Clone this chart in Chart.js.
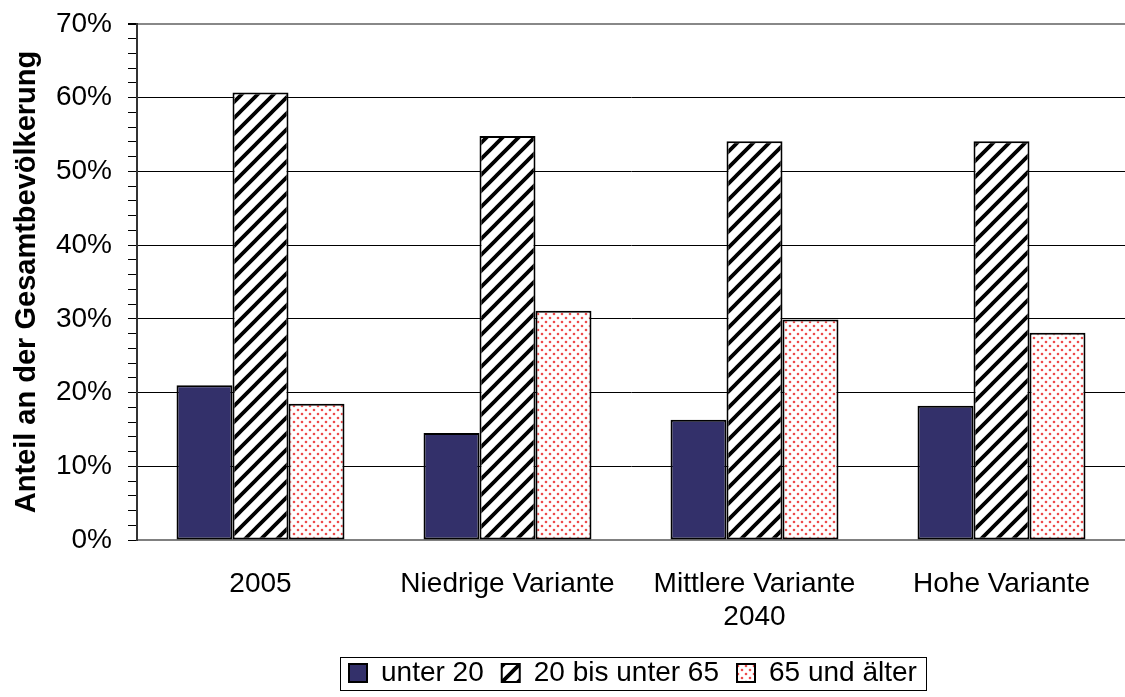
<!DOCTYPE html>
<html lang="de">
<head>
    <meta charset="UTF-8" />
    <title>Anteil an der Gesamtbevölkerung</title>
    <script src="https://cdn.jsdelivr.net/npm/chart.js"></script>
    <style>
        html, body { margin: 0; padding: 0; background: #fff; overflow: hidden; }
    </style>
</head>
<body>
<canvas id="chart" width="1125" height="697"></canvas>
<script>
    // Daten
    const categories = ['2005', 'Niedrige Variante', ['Mittlere Variante', '2040'], 'Hohe Variante'];
    const seriesNames = ['unter 20', '20 bis unter 65', '65 und älter'];
    const unter20 = [21.0, 14.5, 16.3, 18.2];
    const mitte = [60.7, 54.8, 54.1, 54.1];
    const ab65 = [18.5, 31.1, 29.9, 28.1];
    const yTicks = [0, 10, 20, 30, 40, 50, 60, 70];

    const FONT = "'Liberation Sans', Arial, sans-serif";

    // Schraffur
    function hatchPattern() {
        const c = document.createElement('canvas');
        c.width = 16; c.height = 16;
        const g = c.getContext('2d');
        g.fillStyle = '#fff';
        g.fillRect(0, 0, 16, 16);
        g.strokeStyle = '#000';
        g.lineWidth = 3.8;
        g.beginPath();
        g.moveTo(-4, 20); g.lineTo(20, -4);
        g.moveTo(-4, 4); g.lineTo(4, -4);
        g.moveTo(12, 20); g.lineTo(20, 12);
        g.stroke();
        return g.createPattern(c, 'repeat');
    }

    // rote Punkte
    function dotPattern() {
        const c = document.createElement('canvas');
        c.width = 8; c.height = 8;
        const g = c.getContext('2d');
        g.fillStyle = '#fff';
        g.fillRect(0, 0, 8, 8);
        g.fillStyle = 'rgba(235, 55, 55, 0.9)';
        [[2, 2], [6, 6]].forEach(([x, y]) => {
            g.beginPath();
            g.arc(x, y, 1.3, 0, Math.PI * 2);
            g.fill();
        });
        return g.createPattern(c, 'repeat');
    }

    // Legende etwas nach rechts schieben und einrahmen
    const LEGEND_START = 349;
    const legendBorder = {
        id: 'legendBorder',
        afterUpdate(chart) {
            const lg = chart.legend;
            const boxes = lg.legendHitBoxes;
            if (!boxes || !boxes.length) return;
            const shift = LEGEND_START - boxes[0].left;
            lg.left += shift;
            lg.right += shift;
            boxes.forEach(b => { b.left += shift; });
        },
        afterDraw(chart) {
            const boxes = chart.legend.legendHitBoxes;
            if (!boxes || !boxes.length) return;
            const left = Math.min(...boxes.map(b => b.left)) - 9;
            const right = Math.max(...boxes.map(b => b.left + b.width)) + 9;
            const mid = boxes[0].top + boxes[0].height / 2;
            const ctx = chart.ctx;
            ctx.save();
            ctx.strokeStyle = '#000';
            ctx.lineWidth = 1;
            ctx.strokeRect(Math.round(left) + 0.5, Math.round(mid - 16) + 0.5, Math.round(right - left), 33);
            ctx.restore();
        }
    };

    const ctx = document.getElementById('chart').getContext('2d');
    new Chart(ctx, {
        type: 'bar',
        data: {
            labels: categories,
            datasets: [
                { label: seriesNames[0], data: unter20, backgroundColor: '#33306a' },
                { label: seriesNames[1], data: mitte, backgroundColor: hatchPattern() },
                { label: seriesNames[2], data: ab65, backgroundColor: dotPattern() }
            ].map(d => Object.assign(d, {
                borderColor: '#000',
                borderWidth: 2,
                borderSkipped: false,
                categoryPercentage: 0.68,
                barPercentage: 1.0
            }))
        },
        options: {
            responsive: false,
            animation: false,
            devicePixelRatio: 1,
            layout: { padding: { top: 24, right: 0, left: 0, bottom: 0 } },
            plugins: {
                legend: {
                    position: 'bottom',
                    labels: {
                        font: { family: FONT, size: 28 },
                        color: '#000',
                        boxWidth: 18,
                        boxHeight: 18,
                        padding: 18
                    }
                },
                tooltip: { enabled: false }
            },
            scales: {
                x: {
                    grid: { display: false },
                    border: { color: '#808080', width: 2 },
                    ticks: {
                        font: { family: FONT, size: 28 },
                        color: '#000',
                        padding: 19,
                        maxRotation: 0
                    },
                    afterFit(s) { s.height = 101; }
                },
                y: {
                    min: 0,
                    max: 70,
                    border: { color: '#333', width: 2 },
                    grid: {
                        color: c => c.tick && c.tick.value % 10 === 0 && c.tick.value > 0
                            ? (c.tick.value === 70 ? '#888' : '#000') : 'rgba(0,0,0,0)',
                        lineWidth: c => c.tick && c.tick.value === 70 ? 2 : 1,
                        tickColor: '#000',
                        tickLength: 9
                    },
                    ticks: {
                        stepSize: 2,
                        autoSkip: false,
                        font: { family: FONT, size: 28 },
                        color: '#000',
                        padding: 16,
                        callback: v => yTicks.includes(v) ? v + '%' : ''
                    },
                    title: {
                        display: true,
                        text: 'Anteil an der Gesamtbevölkerung',
                        font: { family: FONT, size: 29, weight: 'bold' },
                        color: '#000',
                        padding: { top: 10, bottom: 0 }
                    },
                    afterFit(s) {
                        s.width = 137;
                        s.paddingTop = 0;
                        s.paddingBottom = 0;
                    }
                }
            }
        },
        plugins: [legendBorder]
    });
</script>
</body>
</html>
